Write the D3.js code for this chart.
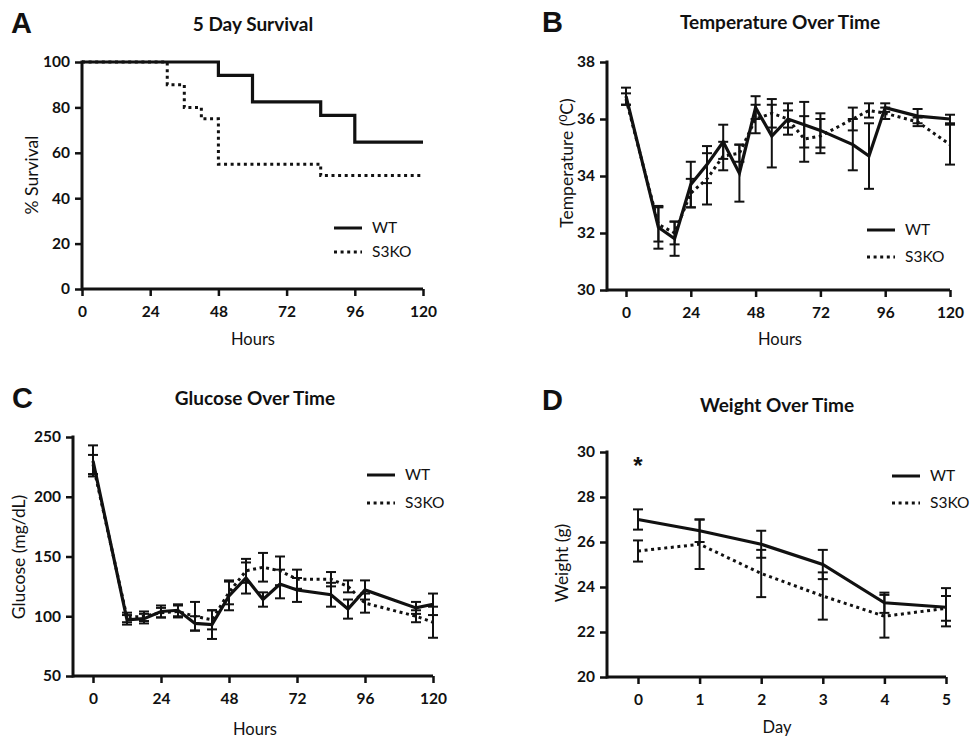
<!DOCTYPE html>
<html>
<head>
<meta charset="utf-8">
<script src="https://cdn.jsdelivr.net/npm/d3@7"></script>
<style>
  body { margin: 0; background: #fff; }
  svg { display: block; }
</style>
</head>
<body>
<script>
// ---- data ----
// A: Kaplan-Meier survival (step points)
const survWTHours = [0, 48, 60, 84, 96, 120];
const survWT = [100, 94.1, 82.4, 76.5, 64.7, 64.7];
const survKOHours = [0, 30, 36, 42, 48, 84, 120];
const survKO = [100, 90, 80, 75, 55, 50, 50];

// B: temperature
const tempHours = [0, 12, 18, 24, 30, 36, 42, 48, 54, 60, 66, 72, 84, 90, 96, 108, 120];
const tempWT = [36.8, 32.2, 31.8, 33.7, 34.4, 35.2, 34.1, 36.4, 35.4, 36.0, 35.8, 35.6, 35.1, 34.7, 36.4, 36.1, 36.0];
const tempWTErr = [0.3, 0.75, 0.6, 0.8, 0.65, 0.6, 1.0, 0.4, 1.1, 0.55, 0.8, 0.6, 0.9, 1.15, 0.15, 0.25, 0.15];
const tempKO = [36.7, 32.3, 32.0, 33.4, 33.9, 34.7, 34.8, 36.0, 36.2, 36.0, 35.3, 35.4, 36.0, 36.3, 36.2, 35.9, 35.1];
const tempKOErr = [0.2, 0.6, 0.4, 0.5, 0.9, 0.5, 0.3, 0.5, 0.5, 0.3, 0.8, 0.6, 0.4, 0.25, 0.2, 0.15, 0.7];

// C: glucose
const glucHours = [0, 12, 18, 24, 30, 36, 42, 48, 54, 60, 66, 72, 84, 90, 96, 114, 120];
const glucWT = [230, 97, 98, 104, 105, 94, 93, 117, 132, 114, 127, 122, 118, 106, 122, 107, 110];
const glucWTErr = [13, 4, 4, 5, 5, 6, 12, 12, 13, 6, 12, 10, 10, 8, 8, 5, 9];
const glucKO = [227, 99, 100, 103, 104, 100, 97, 120, 138, 141, 138, 131, 131, 125, 111, 100, 95];
const glucKOErr = [8, 4, 4, 4, 5, 12, 8, 10, 10, 12, 12, 8, 6, 5, 8, 5, 13];

// D: weight
const days = [0, 1, 2, 3, 4, 5];
const weightWT = [27.0, 26.5, 25.9, 25.0, 23.3, 23.1];
const weightWTErr = [0.45, 0.5, 0.6, 0.65, 0.45, 0.85];
const weightKO = [25.6, 25.9, 24.6, 23.6, 22.7, 23.05];
const weightKOErr = [0.47, 1.1, 1.05, 1.05, 0.95, 0.55];

const hourTicks = [0, 24, 48, 72, 96, 120];

const svg = d3.select("body").append("svg")
    .attr("width", 971)
    .attr("height", 741);

const FONT = "Lato, 'Open Sans', sans-serif";
const INK = "#111";

function panel(cfg) {
    const x = d3.scaleLinear().domain(cfg.xDomain).range([cfg.x0, cfg.x1]);
    const y = d3.scaleLinear().domain(cfg.yDomain).range([cfg.yBottom, cfg.yTop]);
    const g = svg.append("g");

    // axes
    const xa = g.append("g")
        .attr("transform", `translate(0,${cfg.yBottom})`)
        .call(d3.axisBottom(x).tickValues(cfg.xTicks).tickFormat(d3.format("d"))
            .tickSize(7).tickSizeOuter(0).tickPadding(10));
    const ya = g.append("g")
        .attr("transform", `translate(${cfg.axisX},0)`)
        .call(d3.axisLeft(y).tickValues(cfg.yTicks).tickFormat(d3.format("d"))
            .tickSize(7).tickSizeOuter(0).tickPadding(5));
    [xa, ya].forEach(a => {
        a.select(".domain").remove();
        a.selectAll(".tick line").attr("stroke", INK).attr("stroke-width", 2.5);
        a.selectAll(".tick text")
            .attr("fill", INK)
            .style("font-family", FONT)
            .style("font-weight", "bold")
            .style("font-size", "15.5px");
    });
    g.append("line")
        .attr("x1", cfg.axisX).attr("x2", cfg.x1)
        .attr("y1", cfg.yBottom).attr("y2", cfg.yBottom)
        .attr("stroke", INK).attr("stroke-width", 3);
    g.append("line")
        .attr("x1", cfg.axisX).attr("x2", cfg.axisX)
        .attr("y1", cfg.yTop - 1.5).attr("y2", cfg.yBottom + 1.5)
        .attr("stroke", INK).attr("stroke-width", 3);

    // series
    cfg.series.forEach(s => {
        const pts = s.xs.map((v, i) => ({ x: v, y: s.ys[i], e: s.err ? s.err[i] : 0 }));
        const line = d3.line().x(d => x(d.x)).y(d => y(d.y));
        if (cfg.step) line.curve(d3.curveStepAfter);
        g.append("path")
            .datum(pts)
            .attr("d", line)
            .attr("fill", "none")
            .attr("stroke", INK)
            .attr("stroke-width", s.dotted ? 3 : 3.2)
            .attr("stroke-dasharray", s.dotted ? "3,3.6" : null);
        if (s.err) {
            const eb = g.append("g").selectAll("g").data(pts).enter().append("g");
            eb.append("line")
                .attr("x1", d => x(d.x)).attr("x2", d => x(d.x))
                .attr("y1", d => y(d.y + d.e)).attr("y2", d => y(d.y - d.e))
                .attr("stroke", INK).attr("stroke-width", 2);
            [1, -1].forEach(sgn => {
                eb.append("line")
                    .attr("x1", d => x(d.x) - 5).attr("x2", d => x(d.x) + 5)
                    .attr("y1", d => y(d.y + sgn * d.e)).attr("y2", d => y(d.y + sgn * d.e))
                    .attr("stroke", INK).attr("stroke-width", 2);
            });
        }
    });

    // panel letter and title
    g.append("text")
        .attr("x", cfg.letterX).attr("y", cfg.letterY)
        .style("font-family", "'Liberation Sans', Arial, sans-serif")
        .style("font-weight", "bold").style("font-size", "29px")
        .attr("fill", INK)
        .text(cfg.letter);
    g.append("text")
        .attr("x", cfg.titleX).attr("y", cfg.titleY)
        .attr("text-anchor", "middle")
        .style("font-family", FONT).style("font-weight", "bold").style("font-size", "19px")
        .attr("fill", INK)
        .text(cfg.title);

    // axis titles
    g.append("text")
        .attr("x", cfg.titleX).attr("y", cfg.xLabelY)
        .attr("text-anchor", "middle")
        .style("font-family", FONT).style("font-size", "16.5px")
        .attr("fill", INK)
        .text(cfg.xLabel);
    const yl = g.append("text")
        .attr("transform", `translate(${cfg.yLabelX},${cfg.yLabelCY}) rotate(-90)`)
        .attr("text-anchor", "middle")
        .style("font-family", FONT).style("font-size", "17.5px")
        .attr("fill", INK);
    if (cfg.yLabelSup) {
        yl.append("tspan").text(cfg.yLabel[0]);
        yl.append("tspan").attr("dy", -6).style("font-size", "12px").text(cfg.yLabelSup);
        yl.append("tspan").attr("dy", 6).text(cfg.yLabel[1]);
    } else {
        yl.text(cfg.yLabel);
    }

    // legend
    const leg = [{ name: "WT", dotted: false }, { name: "S3KO", dotted: true }];
    leg.forEach((l, i) => {
        const ly = cfg.legY + i * cfg.legGap;
        g.append("line")
            .attr("x1", cfg.legX).attr("x2", cfg.legX + 28)
            .attr("y1", ly).attr("y2", ly)
            .attr("stroke", INK).attr("stroke-width", 3)
            .attr("stroke-dasharray", l.dotted ? "3,3.6" : null);
        g.append("text")
            .attr("x", cfg.legX + 38).attr("y", ly).attr("dy", "0.35em")
            .style("font-family", FONT).style("font-size", "15.5px")
            .attr("fill", INK)
            .text(l.name);
    });

    return { g, x, y };
}

// A
panel({
    letter: "A", letterX: 11, letterY: 33,
    title: "5 Day Survival", titleX: 253, titleY: 31,
    xLabel: "Hours", xLabelY: 345,
    yLabel: "% Survival", yLabelX: 38, yLabelCY: 175,
    axisX: 82, x0: 82, x1: 423, yTop: 62, yBottom: 289,
    xDomain: [0, 120], yDomain: [0, 100],
    xTicks: hourTicks, yTicks: [0, 20, 40, 60, 80, 100],
    step: true,
    series: [
        { xs: survKOHours, ys: survKO, dotted: true },
        { xs: survWTHours, ys: survWT, dotted: false }
    ],
    legX: 334, legY: 228, legGap: 24
});

// B
panel({
    letter: "B", letterX: 542, letterY: 32,
    title: "Temperature Over Time", titleX: 780, titleY: 29,
    xLabel: "Hours", xLabelY: 345,
    yLabel: ["Temperature (", "C)"], yLabelSup: "0", yLabelX: 573, yLabelCY: 163,
    axisX: 607, x0: 626, x1: 950, yTop: 62, yBottom: 290,
    xDomain: [0, 120], yDomain: [30, 38],
    xTicks: hourTicks, yTicks: [30, 32, 34, 36, 38],
    series: [
        { xs: tempHours, ys: tempKO, err: tempKOErr, dotted: true },
        { xs: tempHours, ys: tempWT, err: tempWTErr, dotted: false }
    ],
    legX: 867, legY: 230, legGap: 27
});

// C
panel({
    letter: "C", letterX: 12, letterY: 408,
    title: "Glucose Over Time", titleX: 255, titleY: 405,
    xLabel: "Hours", xLabelY: 735,
    yLabel: "Glucose (mg/dL)", yLabelX: 25, yLabelCY: 557,
    axisX: 73, x0: 93, x1: 433, yTop: 437, yBottom: 676,
    xDomain: [0, 120], yDomain: [50, 250],
    xTicks: hourTicks, yTicks: [50, 100, 150, 200, 250],
    series: [
        { xs: glucHours, ys: glucKO, err: glucKOErr, dotted: true },
        { xs: glucHours, ys: glucWT, err: glucWTErr, dotted: false }
    ],
    legX: 367, legY: 475, legGap: 28
});

// D
const d = panel({
    letter: "D", letterX: 542, letterY: 410,
    title: "Weight Over Time", titleX: 777, titleY: 412,
    xLabel: "Day", xLabelY: 733,
    yLabel: "Weight (g)", yLabelX: 568, yLabelCY: 563,
    axisX: 607, x0: 638, x1: 946, yTop: 452, yBottom: 677,
    xDomain: [0, 5], yDomain: [20, 30],
    xTicks: days, yTicks: [20, 22, 24, 26, 28, 30],
    series: [
        { xs: days, ys: weightKO, err: weightKOErr, dotted: true },
        { xs: days, ys: weightWT, err: weightWTErr, dotted: false }
    ],
    legX: 892, legY: 476, legGap: 27
});

// significance marker on day 0
d.g.append("text")
    .attr("x", d.x(0)).attr("y", 474)
    .attr("text-anchor", "middle")
    .style("font-family", "'Liberation Sans', Arial, sans-serif")
    .style("font-weight", "bold").style("font-size", "24px")
    .attr("fill", INK)
    .text("*");
</script>
</body>
</html>
